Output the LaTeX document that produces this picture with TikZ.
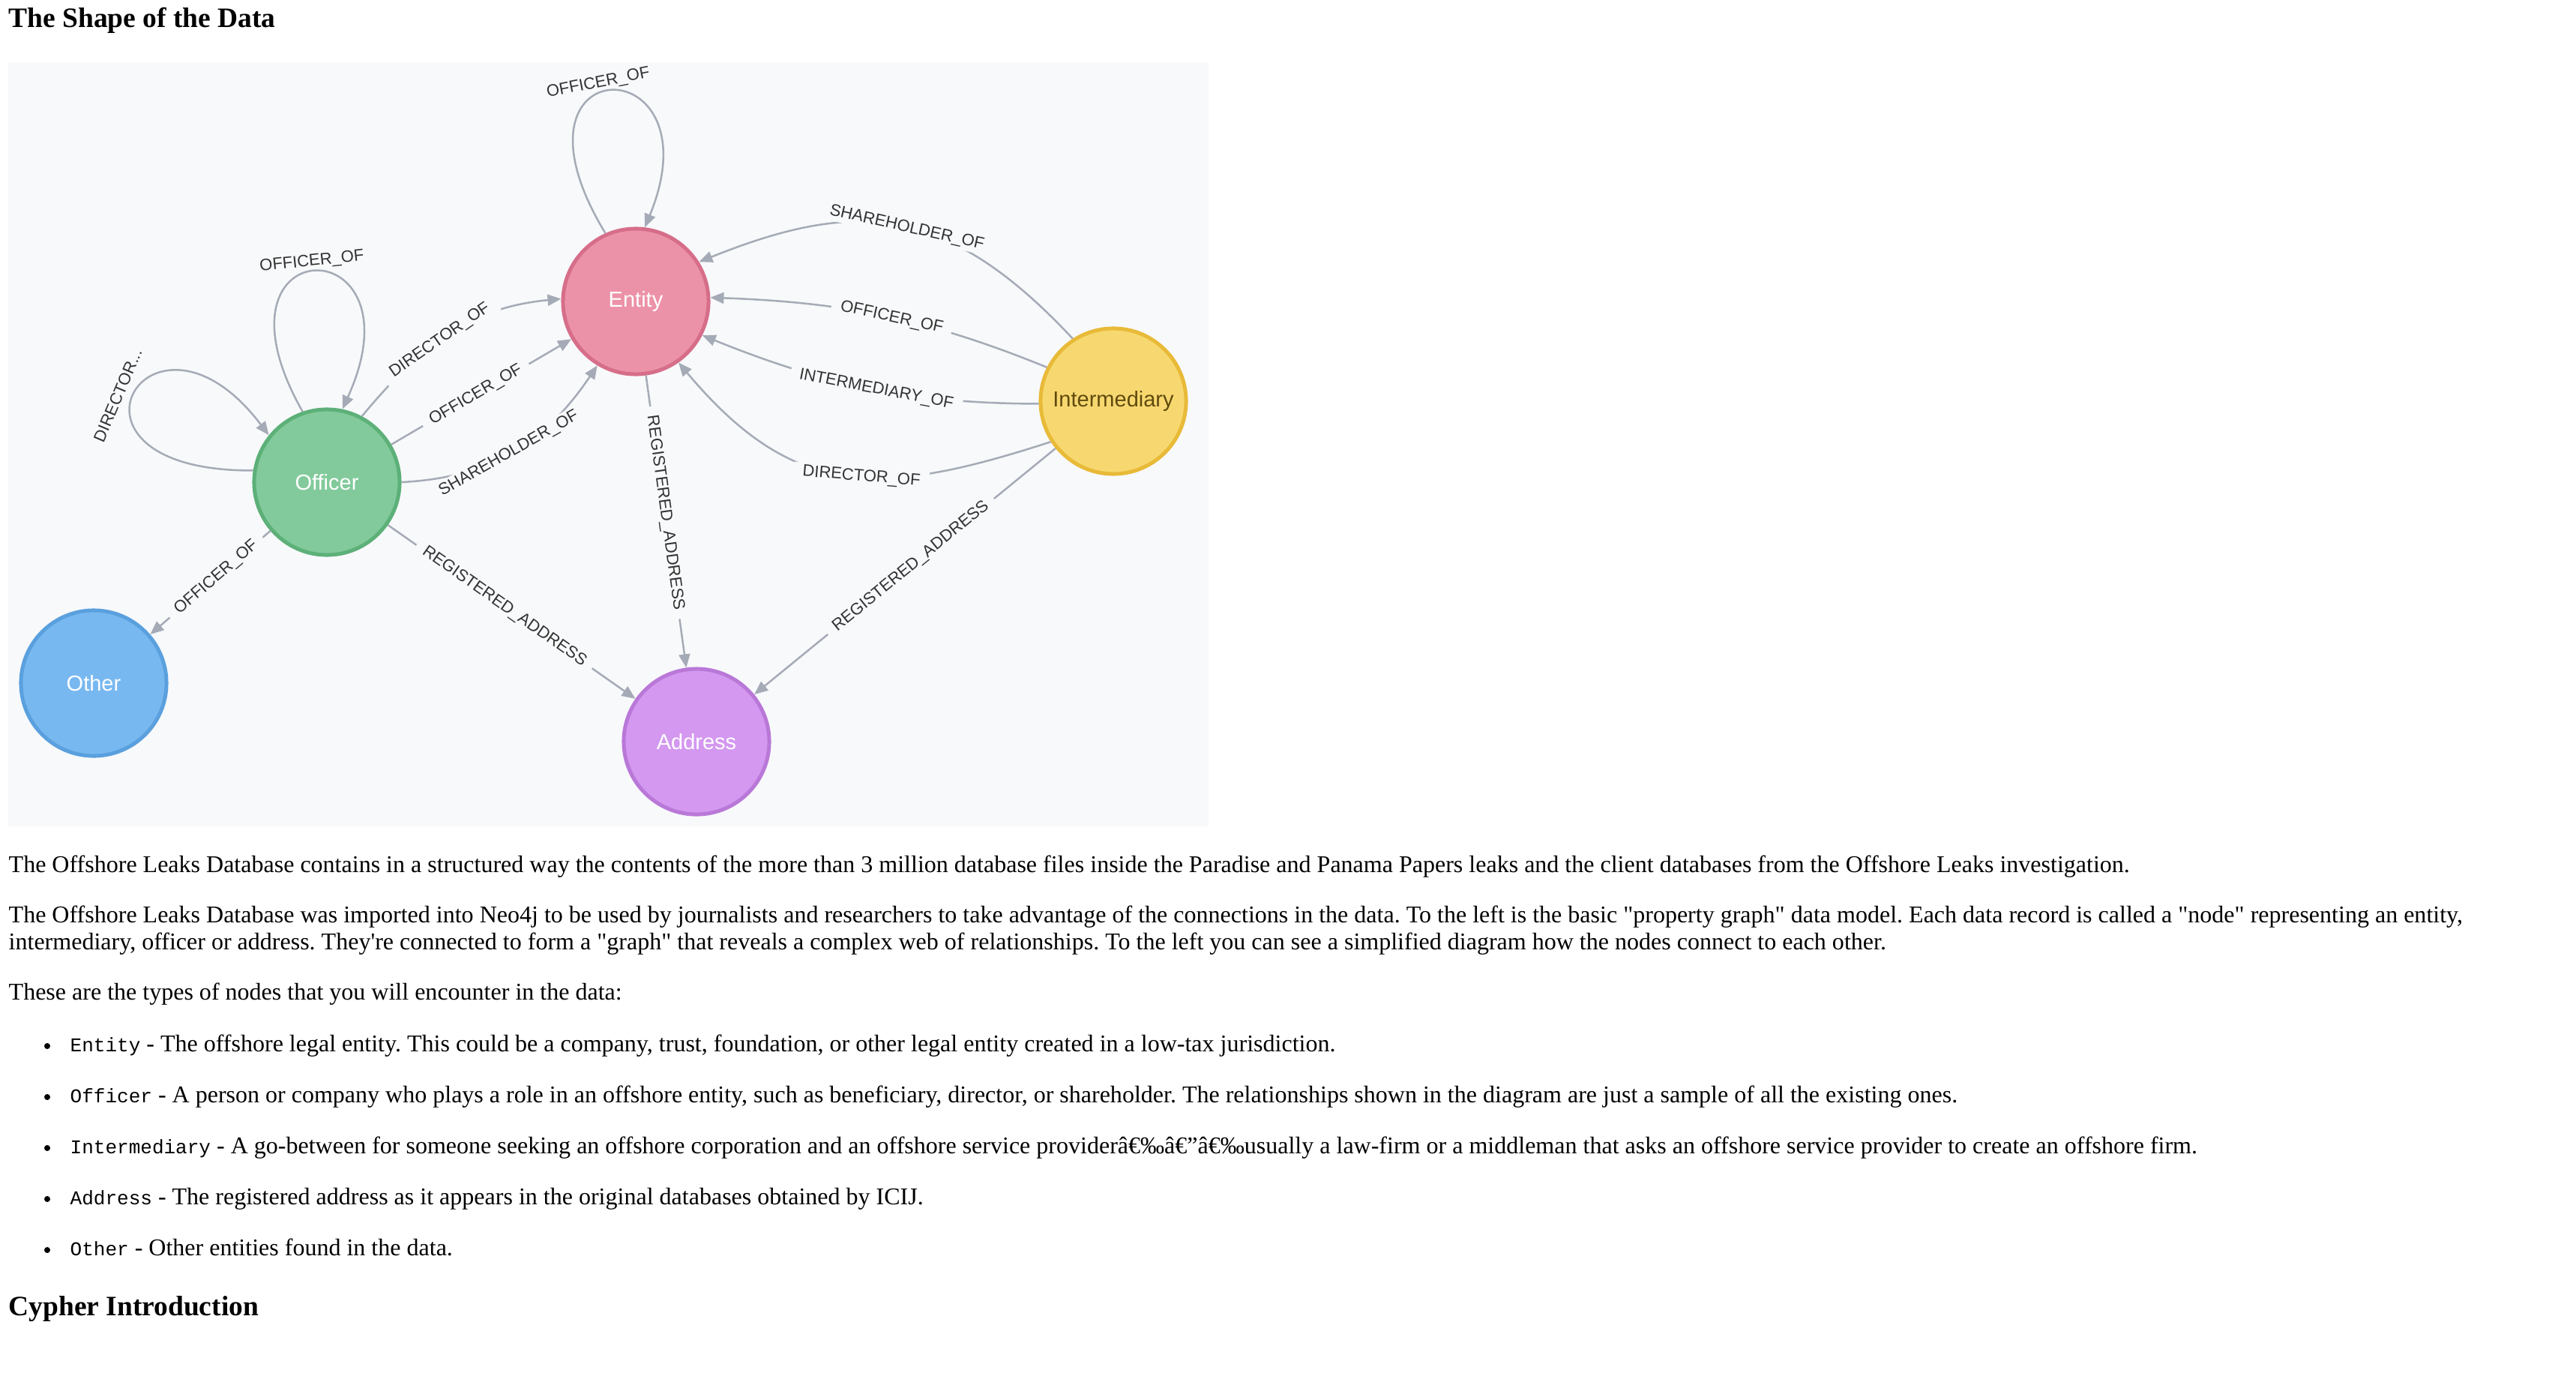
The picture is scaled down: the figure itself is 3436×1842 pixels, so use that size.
\documentclass[tikz,border=0pt]{standalone}
\usepackage{fontspec}
\newfontfamily\pagefont{Liberation Serif}
\newfontfamily\codefont{Liberation Mono}
\newfontfamily\graphfont{Liberation Sans}
\usetikzlibrary{arrows.meta}
\frenchspacing

\begin{document}
\begin{tikzpicture}[x=0.01cm, y=-0.01cm,
  every node/.style={inner sep=0pt},
  gnode/.style={circle, minimum size=1.94cm, line width=0.05cm, text=white, font=\graphfont\fontsize{8.25}{9}\selectfont},
  rel/.style={draw=my_line, line width=0.025cm, -{Triangle[length=0.18cm, width=0.15cm]}},
  rlabel/.style={sloped, fill=my_bg, text=my_text, inner xsep=0.12cm, inner ysep=0.03cm, font=\graphfont\fontsize{6.26}{7}\selectfont},
  looplabel/.style={text=my_text, font=\graphfont\fontsize{6.26}{7}\selectfont},
  bodytext/.style={anchor=base west, font=\pagefont\fontsize{9.105}{11}\selectfont},
  heading/.style={anchor=base west, font=\pagefont\bfseries\fontsize{10.65}{13}\selectfont}]
\definecolor{my_bg}{RGB}{248,249,251}
\definecolor{my_line}{RGB}{165,171,182}
\definecolor{my_text}{RGB}{51,51,51}
\definecolor{my_pink}{RGB}{236,146,168}
\definecolor{my_pink_dark}{RGB}{214,110,138}
\definecolor{my_green}{RGB}{130,202,155}
\definecolor{my_green_dark}{RGB}{92,176,120}
\definecolor{my_yellow}{RGB}{247,216,112}
\definecolor{my_yellow_dark}{RGB}{232,186,56}
\definecolor{my_brown}{RGB}{96,74,14}
\definecolor{my_blue}{RGB}{120,184,240}
\definecolor{my_blue_dark}{RGB}{90,160,222}
\definecolor{my_purple}{RGB}{212,152,240}
\definecolor{my_purple_dark}{RGB}{185,120,216}
\useasboundingbox (0,0) rectangle (3436,1842);
\node[heading] (title) at (11,36) {The Shape of the Data};
\fill[my_bg] (11,83) rectangle (1612,1102);
\node[gnode, fill=my_pink, draw=my_pink_dark] (ent) at (848,402) {Entity};
\node[gnode, fill=my_green, draw=my_green_dark] (off) at (436,643) {Officer};
\node[gnode, fill=my_yellow, draw=my_yellow_dark, text=my_brown] (imd) at (1485,535) {Intermediary};
\node[gnode, fill=my_blue, draw=my_blue_dark] (oth) at (125,911) {Other};
\node[gnode, fill=my_purple, draw=my_purple_dark] (adr) at (929,989) {Address};
\draw[rel] (ent.114) .. controls (655,60) and (960,60) .. (ent.83);
\node[looplabel, rotate=11] (ent_loop) at (798,111) {OFFICER\_OF};
\draw[rel] (off.109) .. controls (263,301) and (568,301) .. (off.78);
\node[looplabel, rotate=6] (off_loop) at (416,349) {OFFICER\_OF};
\draw[rel] (off.171) .. controls (46,629) and (200,371) .. (off.141);
\node[looplabel, rotate=67] (off_loop_left) at (157,527) {DIRECTOR...};
\draw[rel] (off.62) .. controls (561,461) and (626,410) .. node[rlabel, pos=.45] {DIRECTOR\_OF} (ent.178);
\draw[rel] (off) -- node[rlabel, pos=.47] {OFFICER\_OF} (ent);
\draw[rel] (off.0) .. controls (657,637) and (729,588) .. node[rlabel, pos=.47] {SHAREHOLDER\_OF} (ent.239);
\draw[rel] (off) -- node[rlabel, pos=.45] {OFFICER\_OF} (oth);
\draw[rel] (off) -- node[rlabel, pos=.47] {REGISTERED\_ADDRESS} (adr);
\draw[rel] (ent) -- node[rlabel, pos=.47] {REGISTERED\_ADDRESS} (adr);
\draw[rel] (imd.123) .. controls (1261,270) and (1140,266) .. node[rlabel, pos=.47] {SHAREHOLDER\_OF} (ent.32);
\draw[rel] (imd.153) .. controls (1235,424) and (1122,403) .. node[rlabel, pos=.47] {OFFICER\_OF} (ent.3);
\draw[rel] (imd.182) .. controls (1212,538) and (1097,512) .. node[rlabel, pos=.47] {INTERMEDIARY\_OF} (ent.333);
\draw[rel] (imd.213) .. controls (1174,663) and (1059,667) .. node[rlabel, pos=.45] {DIRECTOR\_OF} (ent.305);
\draw[rel] (imd) -- node[rlabel, pos=.48] {REGISTERED\_ADDRESS} (adr);
\node[bodytext] (par_one) at (11,1163) {The Offshore Leaks Database contains in a structured way the contents of the more than 3 million database files inside the Paradise and Panama Papers leaks and the client databases from the Offshore Leaks investigation.};
\node[bodytext] (par_two_a) at (11,1230) {The Offshore Leaks Database was imported into Neo4j to be used by journalists and researchers to take advantage of the connections in the data. To the left is the basic "property graph" data model. Each data record is called a "node" representing an entity,};
\node[bodytext] (par_two_b) at (11,1266) {intermediary, officer or address. They're connected to form a "graph" that reveals a complex web of relationships. To the left you can see a simplified diagram how the nodes connect to each other.};
\node[bodytext] (par_three) at (11,1333) {These are the types of nodes that you will encounter in the data:};
\fill (63,1395) circle (4);
\node[bodytext] (item_entity) at (93,1402) {{\codefont\fontsize{7.4}{9}\selectfont Entity} - The offshore legal entity. This could be a company, trust, foundation, or other legal entity created in a low-tax jurisdiction.};
\fill (63,1463) circle (4);
\node[bodytext] (item_officer) at (93,1470) {{\codefont\fontsize{7.4}{9}\selectfont Officer} - A person or company who plays a role in an offshore entity, such as beneficiary, director, or shareholder. The relationships shown in the diagram are just a sample of all the existing ones.};
\fill (63,1531) circle (4);
\node[bodytext] (item_intermediary) at (93,1538) {{\codefont\fontsize{7.4}{9}\selectfont Intermediary} - A go-between for someone seeking an offshore corporation and an offshore service providerâ€‰â€\symbol{"201D}â€‰usually a law-firm or a middleman that asks an offshore service provider to create an offshore firm.};
\fill (63,1599) circle (4);
\node[bodytext] (item_address) at (93,1606) {{\codefont\fontsize{7.4}{9}\selectfont Address} - The registered address as it appears in the original databases obtained by ICIJ.};
\fill (63,1667) circle (4);
\node[bodytext] (item_other) at (93,1674) {{\codefont\fontsize{7.4}{9}\selectfont Other} - Other entities found in the data.};
\node[heading] (cypher) at (11,1754) {Cypher Introduction};
\end{tikzpicture}
\end{document}
